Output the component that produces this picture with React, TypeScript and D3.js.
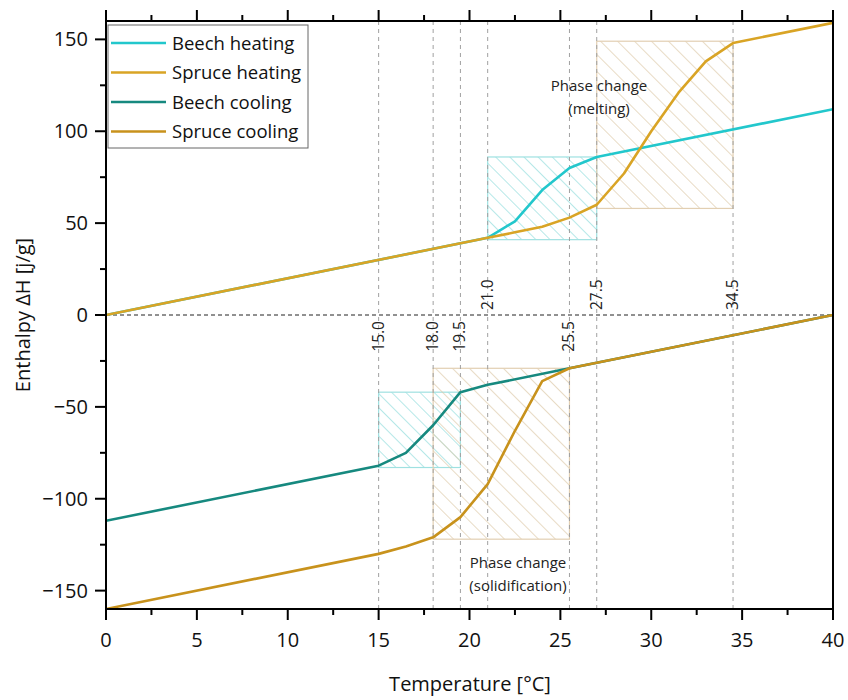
import React from 'react'
import { scaleLinear, line, range } from 'd3'

// curves (temperature in °C, enthalpy in J/g)
const beechHeatT = [0, 21, 22.5, 24, 25.5, 27, 40]
const beechHeatH = [0, 42, 51, 68, 80, 86, 112]
const spruceHeatT = [0, 21, 22.5, 24, 25.5, 27, 28.5, 30, 31.5, 33, 34.5, 40]
const spruceHeatH = [0, 42, 45, 48, 53, 60, 77, 100, 121, 138, 148, 159]
const beechCoolT = [0, 15, 16.5, 18, 19.5, 21, 25.5, 40]
const beechCoolH = [-112, -82, -75, -60, -42, -38, -29, 0]
const spruceCoolT = [0, 15, 16.5, 18, 19.5, 21, 22.5, 24, 25.5, 40]
const spruceCoolH = [-160, -130, -126, -121, -110, -92, -63, -36, -29, 0]

const seriesNames = ['Beech heating', 'Spruce heating', 'Beech cooling', 'Spruce cooling']
const seriesColors = ['#22c7cc', '#d9a425', '#16897f', '#c8921c']

// phase change boxes
const boxT0 = [21, 27, 15, 18]
const boxT1 = [27, 34.5, 19.5, 25.5]
const boxH0 = [41, 58, -83, -122]
const boxH1 = [86, 149, -42, -29]
const boxKind = ['beech', 'spruce', 'beech', 'spruce']

// marker lines
const markT = [15, 18, 19.5, 21, 25.5, 27, 34.5]
const markLabel = ['15.0', '18.0', '19.5', '21.0', '25.5', '27.5', '34.5']
const markAbove = [false, false, false, true, false, true, true]

const xTicks = [0, 5, 10, 15, 20, 25, 30, 35, 40]
const yTicks = [-150, -100, -50, 0, 50, 100, 150]

const W = 848
const H = 700
const left = 106
const right = 833
const top = 21
const bottom = 609
const font = '"Open Sans", "Noto Sans", sans-serif'

export default function App() {
  const x = scaleLinear().domain([0, 40]).range([left, right])
  const y = scaleLinear().domain([-160, 160]).range([bottom, top])

  const mk = (ts: number[], hs: number[]) =>
    line<number>()
      .x((_, i) => x(ts[i]))
      .y((_, i) => y(hs[i]))(ts) as string

  const paths = [
    mk(beechHeatT, beechHeatH),
    mk(spruceHeatT, spruceHeatH),
    mk(beechCoolT, beechCoolH),
    mk(spruceCoolT, spruceCoolH),
  ]

  const xMinor = range(0, 40.01, 2.5)
  const yMinor = range(-150, 150.01, 25)
  const fmt = (v: number) => (v < 0 ? '\u2212' + Math.abs(v) : String(v))

  return (
    <div style={{ position: 'absolute', left: 0, top: 0 }}>
      <svg width={W} height={H} style={{ display: 'block', background: '#fff' }} fontFamily={font}>
        <defs>
          <pattern id="hatch-beech" width={10} height={10} patternUnits="userSpaceOnUse" patternTransform="rotate(45)">
            <line x1={0} y1={0} x2={10} y2={0} stroke="#8edbdb" strokeWidth={1.3} />
          </pattern>
          <pattern id="hatch-spruce" width={12} height={12} patternUnits="userSpaceOnUse" patternTransform="rotate(45)">
            <line x1={0} y1={0} x2={12} y2={0} stroke="#dcc7a6" strokeWidth={1.3} />
          </pattern>
          <clipPath id="plot">
            <rect x={left} y={top} width={right - left} height={bottom - top} />
          </clipPath>
        </defs>

        {/* phase change boxes */}
        {boxT0.map((t0, i) => (
          <rect
            key={'b' + i}
            x={x(t0)}
            y={y(boxH1[i])}
            width={x(boxT1[i]) - x(t0)}
            height={y(boxH0[i]) - y(boxH1[i])}
            fill={`url(#hatch-${boxKind[i]})`}
            stroke={boxKind[i] === 'beech' ? '#9fe1e1' : '#e2cfb2'}
            strokeWidth={1.2}
          />
        ))}

        {/* marker lines */}
        {markT.map((t) => (
          <line key={'m' + t} x1={x(t)} x2={x(t)} y1={top} y2={bottom} stroke="#a0a0a0" strokeWidth={1} strokeDasharray="4,4" />
        ))}
        <line x1={left} x2={right} y1={y(0)} y2={y(0)} stroke="#222" strokeWidth={1} strokeDasharray="4,3" />
        {markT.map((t, i) => (
          <text
            key={'ml' + t}
            transform={`translate(${x(t) + 5},${markAbove[i] ? y(0) - 5 : y(0) + 6}) rotate(-90)`}
            textAnchor={markAbove[i] ? 'start' : 'end'}
            fontSize={15.5}
            fill="#222"
          >
            {markLabel[i]}
          </text>
        ))}

        {/* curves */}
        <g clipPath="url(#plot)">
          {paths.map((d, i) => (
            <path key={'p' + i} d={d} fill="none" stroke={seriesColors[i]} strokeWidth={2.6} strokeLinejoin="round" />
          ))}
        </g>

        {/* annotations */}
        <text x={599} y={91} textAnchor="middle" fontSize={15} fill="#222">Phase change</text>
        <text x={599} y={114} textAnchor="middle" fontSize={15} fill="#222">(melting)</text>
        <text x={518} y={568} textAnchor="middle" fontSize={15} fill="#222">Phase change</text>
        <text x={518} y={591} textAnchor="middle" fontSize={15} fill="#222">(solidification)</text>

        {/* frame */}
        <rect x={left} y={top} width={right - left} height={bottom - top} fill="none" stroke="#000" strokeWidth={2} />

        {/* x ticks bottom & top */}
        {xMinor.map((v) => {
          const major = v % 5 === 0
          return (
            <g key={'xt' + v}>
              <line x1={x(v)} x2={x(v)} y1={bottom} y2={bottom + (major ? 11 : 6)} stroke="#000" strokeWidth={2} />
              <line x1={x(v)} x2={x(v)} y1={top} y2={top - (major ? 11 : 6)} stroke="#000" strokeWidth={2} />
            </g>
          )
        })}
        {xTicks.map((v) => (
          <text key={'xl' + v} x={x(v)} y={647} textAnchor="middle" fontSize={20} fill="#111">{v}</text>
        ))}

        {/* y ticks */}
        {yMinor.map((v) => (
          <line key={'yt' + v} x1={left} x2={left - (v % 50 === 0 ? 11 : 6)} y1={y(v)} y2={y(v)} stroke="#000" strokeWidth={2} />
        ))}
        {yTicks.map((v) => (
          <text key={'yl' + v} x={88} y={y(v) + 7} textAnchor="end" fontSize={20} fill="#111">{fmt(v)}</text>
        ))}

        {/* axis titles */}
        <text x={470} y={691} textAnchor="middle" fontSize={20} fill="#111">Temperature [°C]</text>
        <text transform={`translate(30,${(top + bottom) / 2}) rotate(-90)`} textAnchor="middle" fontSize={20} fill="#111">
          Enthalpy ΔH [j/g]
        </text>

        {/* legend */}
        <rect x={108} y={25} width={200} height={123} fill="#fff" stroke="#666" strokeWidth={1} />
        {seriesNames.map((n, i) => (
          <g key={'lg' + i} transform={`translate(0,${43 + i * 29.5})`}>
            <line x1={111} x2={166} y1={0} y2={0} stroke={seriesColors[i]} strokeWidth={2.6} />
            <text x={172} y={6.5} fontSize={18.5} fill="#111">{n}</text>
          </g>
        ))}
      </svg>
    </div>
  )
}
